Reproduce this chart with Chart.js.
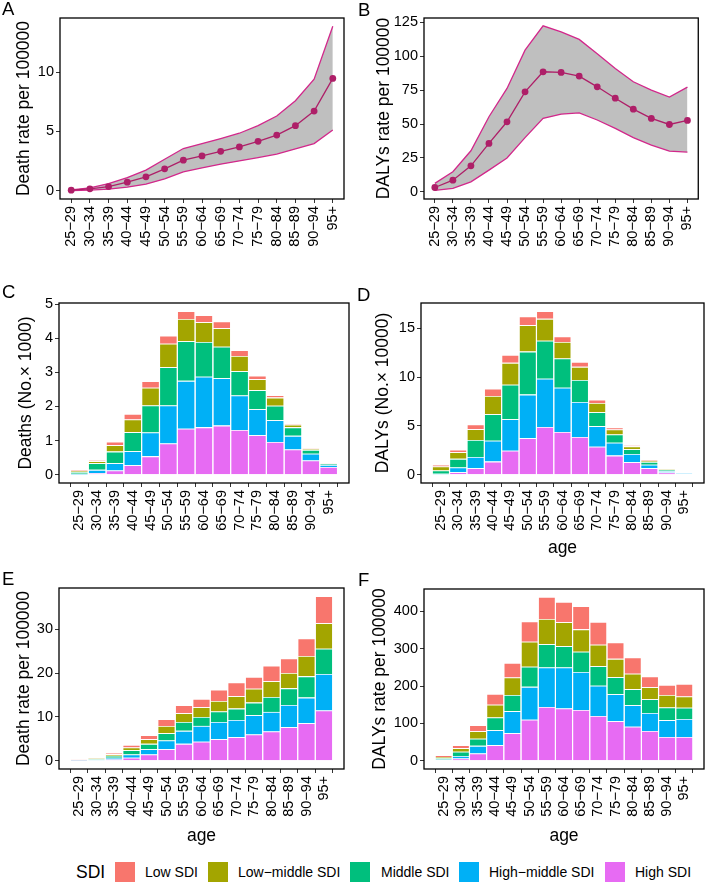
<!DOCTYPE html>
<html><head><meta charset="utf-8">
<script src="https://cdn.jsdelivr.net/npm/chart.js@4.4.1/dist/chart.umd.min.js"></script>
<style>
html,body{margin:0;padding:0;background:#fff;}
body{width:708px;height:882px;position:relative;overflow:hidden;font-family:"Liberation Sans",Arial,sans-serif;color:#000;}
canvas{position:absolute;}
.lab{position:absolute;font-size:18.5px;line-height:18.5px;}
.leg{position:absolute;font-size:14px;line-height:20px;top:862px;white-space:nowrap;}
.box{position:absolute;width:20px;height:20px;top:862px;}
</style></head><body>
<canvas id="cA"></canvas><canvas id="cB"></canvas>
<canvas id="cC"></canvas><canvas id="cD"></canvas>
<canvas id="cE"></canvas><canvas id="cF"></canvas>
<div class="lab" style="left:2px;top:0px">A</div>
<div class="lab" style="left:358px;top:1px">B</div>
<div class="lab" style="left:2px;top:283px">C</div>
<div class="lab" style="left:357px;top:286px">D</div>
<div class="lab" style="left:2px;top:570px">E</div>
<div class="lab" style="left:358px;top:571px">F</div>
<div id="legend"></div>
<script>
// ---------- data ----------
const ageGroups = ["25\u221229","30\u221234","35\u221239","40\u221244","45\u221249","50\u221254","55\u221259","60\u221264","65\u221269","70\u221274","75\u221279","80\u221284","85\u221289","90\u221294","95+"];
const sdiLevels = ["Low SDI","Low\u2212middle SDI","Middle SDI","High\u2212middle SDI","High SDI"];

// Panel A: death rate per 100000 (mean, upper, lower)
const deathRateMean  = [0.05,0.17,0.36,0.73,1.18,1.85,2.58,2.94,3.33,3.70,4.17,4.70,5.49,6.72,9.47];
const deathRateUpper = [0.08,0.25,0.61,1.12,1.74,2.66,3.56,3.98,4.40,4.85,5.49,6.30,7.59,9.41,13.87];
const deathRateLower = [0.02,0.06,0.14,0.31,0.56,1.00,1.60,1.93,2.24,2.52,2.80,3.10,3.53,3.98,5.13];

// Panel B: DALYs rate per 100000
const dalyRateMean  = [3.2,8.6,19.2,35.7,51.7,73.8,88.6,88.1,85.4,77.5,69.1,61.0,54.2,49.7,52.7];
const dalyRateUpper = [6.2,14.8,30.3,55.4,76.3,104.6,122.5,118.0,112.5,102.0,91.0,81.2,75.0,70.0,77.3];
const dalyRateLower = [1.0,2.5,7.4,16.0,25.0,40.0,54.2,57.3,58.3,53.0,46.8,40.0,34.5,30.0,29.3];

// Panel C: deaths (No. x 1000) by SDI
const deathsLow        = [0.025,0.03,0.10,0.16,0.19,0.23,0.23,0.20,0.20,0.17,0.10,0.07,0.03,0.02,0.01];
const deathsLowMiddle  = [0.04,0.06,0.19,0.37,0.52,0.69,0.65,0.58,0.54,0.45,0.32,0.24,0.08,0.03,0.01];
const deathsMiddle     = [0.05,0.195,0.34,0.56,0.79,1.12,1.16,1.02,0.92,0.71,0.56,0.42,0.25,0.11,0.03];
const deathsHighMiddle = [0.02,0.095,0.215,0.41,0.70,1.11,1.40,1.48,1.39,1.01,0.76,0.64,0.40,0.20,0.06];
const deathsHigh       = [0.01,0.05,0.125,0.28,0.54,0.92,1.35,1.39,1.44,1.31,1.16,0.96,0.74,0.42,0.23];

// Panel D: DALYs (No. x 10000) by SDI
const dalysLow        = [0.17,0.27,0.48,0.74,0.81,0.88,0.78,0.57,0.51,0.34,0.20,0.10,0.07,0.03,0.01];
const dalysLowMiddle  = [0.41,0.67,1.11,1.86,2.24,2.71,2.24,1.69,1.35,0.95,0.51,0.30,0.10,0.07,0.01];
const dalysMiddle     = [0.34,0.88,1.73,2.71,3.52,4.40,3.89,2.98,2.24,1.42,0.85,0.48,0.30,0.14,0.03];
const dalysHighMiddle = [0.07,0.48,1.15,2.14,3.22,4.47,4.94,4.54,3.59,2.10,1.32,0.84,0.34,0.13,0.07];
const dalysHigh       = [0.03,0.27,0.68,1.35,2.47,3.73,4.88,4.37,3.86,2.88,1.96,1.29,0.68,0.24,0.08];

// Panel E: death rate per 100000 by SDI
const deathRateLow        = [0.03,0.15,0.30,0.60,0.91,1.52,1.82,1.90,2.58,3.19,2.65,3.57,3.34,4.02,6.15];
const deathRateLowMiddle  = [0.05,0.15,0.38,0.61,1.07,1.67,1.98,2.20,2.43,2.81,3.19,3.57,3.50,4.63,5.85];
const deathRateMiddle     = [0.07,0.18,0.46,0.99,1.21,1.67,2.05,2.05,2.36,2.58,2.89,3.42,3.79,4.86,5.77];
const deathRateHighMiddle = [0.05,0.12,0.38,0.76,1.22,1.97,2.96,3.64,3.94,3.95,4.40,4.48,5.09,5.85,8.35];
const deathRateHigh       = [0.03,0.10,0.30,0.68,1.44,2.66,3.87,4.33,4.94,5.39,6.00,6.68,7.67,8.58,11.47];

// Panel F: DALYs rate per 100000 by SDI
const dalyRateLow        = [5,8,16,29,39,54,59,54,62,61,44,44,29,27,34];
const dalyRateLowMiddle  = [3,10,20,34,47,67,68,64,60,58,49,41,32,33,30];
const dalyRateMiddle     = [3.5,11,19,34,43,54,62,57,54,52,46,43,37,34,30];
const dalyRateHighMiddle = [1.7,7,20.5,40,59,88,106,110,102,81,72,58,48,45,48];
const dalyRateHigh       = [1.8,6,19.5,42,74,110,144,140,136,120,106,91,80,64,64];

// tick values
const ticksA = [0,5,10];
const ticksB = [0,25,50,75,100,125];
const ticksC = [0,1,2,3,4,5];
const ticksD = [0,5,10,15];
const ticksE = [0,10,20,30];
const ticksF = [0,100,200,300,400];

// ---------- styling ----------
const FONT = "'Liberation Sans', Arial, sans-serif";
const SDI_COLORS = ["#F8766D","#A3A500","#00BF7D","#00B0F6","#E76BF3"];
const BAND_LINE = "#D2288B";
const MEAN_LINE = "#AE1F68";
const BAND_FILL = "#BFBFBF";
const X_SPAN = 15.2;      // -0.6 .. 14.6 (discrete axis expansion)
const BAR_FRACTION = 0.9; // bar width as share of a category

const framePlugin = {
  id: 'frame',
  afterDraw(chart) {
    const {ctx, chartArea: a} = chart;
    ctx.save();
    ctx.strokeStyle = '#000';
    ctx.lineWidth = 1.3;
    ctx.strokeRect(a.left, a.top, a.right - a.left, a.bottom - a.top);
    ctx.restore();
  }
};

function setupCanvas(id, left, top, w, h) {
  const c = document.getElementById(id);
  c.width = w; c.height = h;
  c.style.left = left + 'px'; c.style.top = top + 'px';
  c.style.width = w + 'px'; c.style.height = h + 'px';
  return c;
}

function buildOptions(p) {
  return {
    responsive: false,
    animation: false,
    devicePixelRatio: 1,
    layout: { padding: { top: p.padTop, right: p.padRight, left: 0, bottom: 0 } },
    plugins: { legend: { display: false }, tooltip: { enabled: false } },
    scales: {
      x: {
        type: 'linear', min: -0.6, max: 14.6, stacked: p.stacked,
        afterBuildTicks: s => { s.ticks = ageGroups.map((_, i) => ({ value: i })); },
        afterFit: s => { s.height = p.xHeight; },
        ticks: {
          autoSkip: false, minRotation: 90, maxRotation: 90, padding: 3,
          color: '#000', font: { size: 14.5, family: FONT },
          callback: v => ageGroups[v]
        },
        grid: { drawOnChartArea: false, drawTicks: true, tickLength: 4, color: '#333', lineWidth: 1 },
        border: { display: false },
        title: p.xTitle ? { display: true, text: 'age', color: '#000', font: { size: 17.5, family: FONT }, padding: { top: 0, bottom: p.xTitlePad } } : { display: false }
      },
      y: {
        type: 'linear', min: p.yMin, max: p.yMax, stacked: p.stacked,
        afterBuildTicks: s => { s.ticks = p.ticks.map(v => ({ value: v })); },
        afterFit: s => { s.width = p.yWidth; },
        ticks: { color: '#000', font: { size: 14.5, family: FONT }, padding: 2 },
        grid: { drawOnChartArea: false, drawTicks: true, tickLength: 4, color: '#333', lineWidth: 1 },
        border: { display: false },
        title: { display: true, text: p.yTitle, color: '#000', font: { size: 17.5, family: FONT }, padding: { top: p.yTitlePad, bottom: 0 } }
      }
    }
  };
}

function pts(arr) { return arr.map((v, i) => ({ x: i, y: v })); }

function lineChart(id, left, top, w, h, mean, upper, lower, p) {
  const c = setupCanvas(id, left, top, w, h);
  new Chart(c, {
    type: 'line',
    data: {
      datasets: [
        { data: pts(mean), borderColor: MEAN_LINE, borderWidth: 1.3, pointRadius: 3.4,
          pointBackgroundColor: MEAN_LINE, pointBorderWidth: 0, fill: false, tension: 0 },
        { data: pts(lower), borderColor: BAND_LINE, borderWidth: 1.3, pointRadius: 0, fill: false, tension: 0 },
        { data: pts(upper), borderColor: BAND_LINE, borderWidth: 1.3, pointRadius: 0,
          fill: '-1', backgroundColor: BAND_FILL, tension: 0 }
      ]
    },
    options: buildOptions(Object.assign({ stacked: false }, p)),
    plugins: [framePlugin]
  });
}

function barChart(id, left, top, w, h, series, p) {
  const c = setupCanvas(id, left, top, w, h);
  const plotWidth = w - p.yWidth - p.padRight;
  const thickness = plotWidth / X_SPAN * BAR_FRACTION;
  // stack from bottom: High, High-middle, Middle, Low-middle, Low
  const order = [4, 3, 2, 1, 0];
  const datasets = order.map(k => ({
    label: sdiLevels[k],
    data: pts(series[k]),
    backgroundColor: SDI_COLORS[k],
    borderColor: 'rgba(255,255,255,0.9)',
    borderWidth: { top: 0.8, left: 0.3, right: 0.3, bottom: 0 },
    borderSkipped: false,
    inflateAmount: 0,
    barThickness: thickness
  }));
  new Chart(c, {
    type: 'bar',
    data: { datasets },
    options: buildOptions(Object.assign({ stacked: true }, p)),
    plugins: [framePlugin]
  });
}

lineChart('cA', 0, 0, 354, 280, deathRateMean, deathRateUpper, deathRateLower,
  { yMin: -0.69, yMax: 14.56, ticks: ticksA, yWidth: 60, padTop: 18, padRight: 10, xHeight: 81,
    yTitle: 'Death rate per 100000', yTitlePad: 13.8, xTitle: false });
lineChart('cB', 354, 0, 354, 280, dalyRateMean, dalyRateUpper, dalyRateLower,
  { yMin: -5.3, yMax: 128.3, ticks: ticksB, yWidth: 70, padTop: 18, padRight: 4, xHeight: 81,
    yTitle: 'DALYs rate per 100000', yTitlePad: 19.8, xTitle: false });

barChart('cC', 0, 280, 354, 290,
  [deathsLow, deathsLowMiddle, deathsMiddle, deathsHighMiddle, deathsHigh],
  { yMin: -0.24, yMax: 5.03, ticks: ticksC, yWidth: 59, padTop: 23, padRight: 5, xHeight: 87,
    yTitle: 'Deaths (No.\u00d7 1000)', yTitlePad: 15.8, xTitle: false });
barChart('cD', 354, 280, 354, 290,
  [dalysLow, dalysLowMiddle, dalysMiddle, dalysHighMiddle, dalysHigh],
  { yMin: -0.84, yMax: 17.57, ticks: ticksD, yWidth: 67, padTop: 23, padRight: 4, xHeight: 87,
    yTitle: 'DALYs (No.\u00d7 10000)', yTitlePad: 18.8, xTitle: true, xTitlePad: 11.8 });
barChart('cE', 0, 570, 354, 280,
  [deathRateLow, deathRateLowMiddle, deathRateMiddle, deathRateHighMiddle, deathRateHigh],
  { yMin: -1.88, yMax: 39.47, ticks: ticksE, yWidth: 59, padTop: 18, padRight: 10, xHeight: 81,
    yTitle: 'Death rate per 100000', yTitlePad: 13.8, xTitle: true, xTitlePad: 3.8 });
barChart('cF', 354, 570, 354, 280,
  [dalyRateLow, dalyRateLowMiddle, dalyRateMiddle, dalyRateHighMiddle, dalyRateHigh],
  { yMin: -22, yMax: 460, ticks: ticksF, yWidth: 70, padTop: 19, padRight: 4, xHeight: 81,
    yTitle: 'DALYs rate per 100000', yTitlePad: 15.8, xTitle: true, xTitlePad: 3.8 });

// ---------- legend ----------
const legend = document.getElementById('legend');
const boxX = [115, 208, 350, 459, 605];
const textX = [145, 238, 381, 489, 635];
let html = '<div class="leg" style="left:76px;font-size:17.5px">SDI</div>';
sdiLevels.forEach((name, k) => {
  html += `<div class="box" style="left:${boxX[k]}px;background:${SDI_COLORS[k]}"></div>`;
  html += `<div class="leg" style="left:${textX[k]}px">${name}</div>`;
});
legend.innerHTML = html;
</script>
</body></html>
